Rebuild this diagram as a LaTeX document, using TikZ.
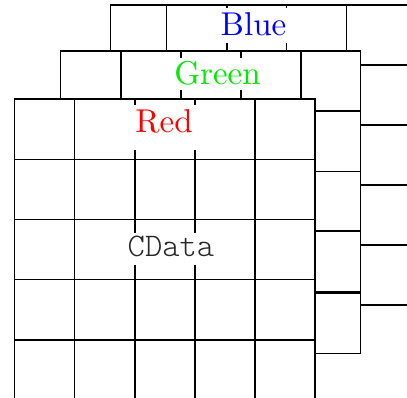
\documentclass[tikz,border=0pt]{standalone}
\definecolor{cblue}{RGB}{0,0,255}
\definecolor{cgreen}{RGB}{0,235,0}
\definecolor{cred}{RGB}{255,0,0}
\begin{document}
\begin{tikzpicture}[x=1pt,y=-1pt,
  gridline/.style={line width=1.2pt,black},
  lbl/.style={fill=white,inner xsep=1.2pt,inner ysep=0pt,anchor=base,scale=3.3,font=\fontsize{10}{12}\selectfont},
  mono/.style={fill=white,inner xsep=0.9pt,inner ysep=0pt,anchor=base,scale=3.3,font=\fontsize{10}{12}\selectfont\ttfamily\fontseries{l}\selectfont}]
\useasboundingbox (0,0) rectangle (407,398);
% Blue channel (back)
\filldraw[gridline,fill=white] (110.7,5) rectangle (430,305);
\foreach \x in {166.7,227,286.7,346.7} \draw[gridline] (\x,5) -- (\x,305);
\foreach \y in {65,125,185,245} \draw[gridline] (110.7,\y) -- (430,\y);
\node[lbl,text=cblue,text height=8.48pt,text depth=2.03pt] (blue) at (253.5,36) {Blue};
% Green channel (middle)
\filldraw[gridline,fill=white] (60.7,51) rectangle (360.3,353.3);
\foreach \x in {121,181,241,301} \draw[gridline] (\x,51) -- (\x,353.3);
\foreach \y in {111,171.7,231} \draw[gridline] (60.7,\y) -- (360.3,\y);
\draw[line width=2.6pt] (60.7,292.3) -- (360.3,292.3);
\node[lbl,text=cgreen,text height=8.18pt,text depth=1.52pt] (green) at (217.5,85) {Green};
% Red channel (front)
\filldraw[gridline,fill=white] (14.7,99) rectangle (315,400);
\foreach \x in {74.7,135,195,255} \draw[gridline] (\x,99) -- (\x,400);
\foreach \y in {159.3,219.3,279.3,340} \draw[gridline] (14.7,\y) -- (315,\y);
\node[lbl,text=cred,text height=8.48pt,text depth=5.15pt] (red) at (164,133) {Red};
\node[mono,text=black!85,text height=7.27pt,text depth=2.42pt] (cdata) at (171,257) {CData};
\end{tikzpicture}
\end{document}
